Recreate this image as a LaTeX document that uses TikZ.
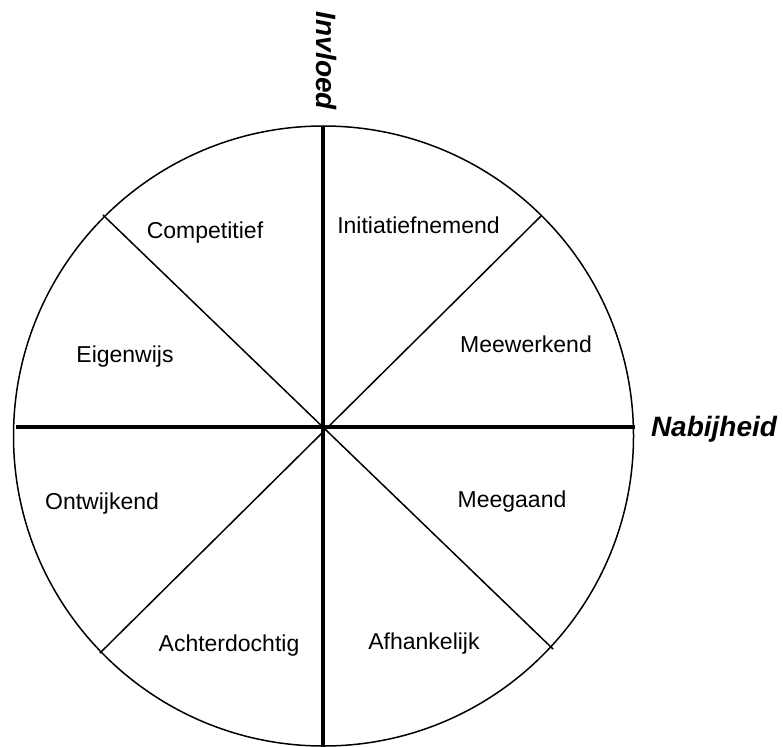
\documentclass[tikz,border=0pt]{standalone}
\usepackage{fontspec}
\setmainfont{Liberation Sans}
\begin{document}
\begin{tikzpicture}[x=1pt,y=-1pt,
  thinline/.style={line width=1.5pt},
  axisline/.style={line width=4.5pt},
  lbl/.style={font=\fontsize{23}{27}\selectfont, anchor=base, inner sep=0pt},
  axislbl/.style={font=\fontsize{28}{32}\selectfont\bfseries\itshape, inner sep=0pt}]
\useasboundingbox (0,0) rectangle (783,746);
% circle
\coordinate (c) at (323.5,436);
\draw[thinline] (c) circle[radius=310];
% diagonals
\coordinate (d1a) at (103,215);
\coordinate (d1b) at (553,649);
\coordinate (d2a) at (541,216);
\coordinate (d2b) at (100,653);
\draw[thinline] (d1a) -- (d1b);
\draw[thinline] (d2a) -- (d2b);
% axes
\coordinate (vt) at (323,126);
\coordinate (vb) at (323,750);
\coordinate (hl) at (16,427);
\coordinate (hr) at (635,427);
\draw[axisline] (vt) -- (vb);
\draw[axisline] (hl) -- (hr);
% axis labels
\node[axislbl, anchor=base] (nab) at (714,436) {Nabijheid};
\node[axislbl, rotate=-90] (inv) at (326,61) {Invloed};
% sector labels
\node[lbl] (comp) at (205,238) {Competitief};
\node[lbl] (init) at (418.5,233) {Initiatiefnemend};
\node[lbl] (eigen) at (125,362) {Eigenwijs};
\node[lbl] (mee) at (526,352) {Meewerkend};
\node[lbl] (ontw) at (102,509) {Ontwijkend};
\node[lbl] (meeg) at (512,507) {Meegaand};
\node[lbl] (acht) at (229,651) {Achterdochtig};
\node[lbl] (afh) at (424,649) {Afhankelijk};
\end{tikzpicture}
\end{document}
